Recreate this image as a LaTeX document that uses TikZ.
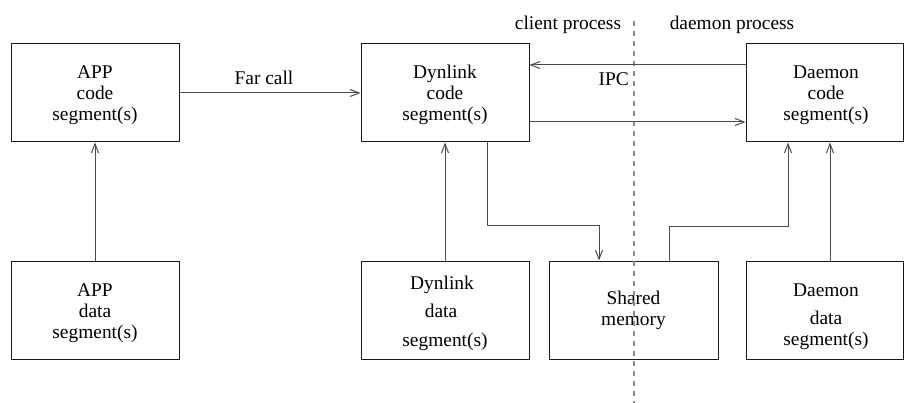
\documentclass[tikz,border=0pt]{standalone}
\usepackage{fontspec}
\setmainfont{Liberation Serif}
\usetikzlibrary{arrows.meta,calc}
\begin{document}
\begin{tikzpicture}[x=1pt,y=-1pt,
  box/.style={draw=black!90,line width=1pt,rectangle,minimum height=98pt,inner sep=0pt},
  wide/.style={minimum width=168pt},
  narrow/.style={minimum width=157pt},
  lbl/.style={inner sep=0pt,anchor=base,font=\fontsize{19.4}{21}\selectfont},
  conn/.style={draw=black!70,line width=1pt,-{Straight Barb[length=9pt,width=7pt,line width=1pt]}},
  divider/.style={draw=black!45,line width=1.2pt,dash pattern=on 5pt off 5pt}
]
\useasboundingbox (0,0) rectangle (904,403);

% upper row: code segments
\node[box,wide]   (appc) at (95,93)    {};
\node[box,wide]   (dync) at (445,93)   {};
\node[box,narrow] (daec) at (824.5,93) {};
% lower row: data segments and shared memory
\node[box,wide]   (appd) at (95,310)    {};
\node[box,wide]   (dynd) at (445,310)   {};
\node[box,minimum width=169pt] (shm) at (633.5,310) {};
\node[box,narrow] (daed) at (824.5,310) {};

% box texts
\node[lbl] (appc1) at (95,79)  {APP};
\node[lbl] (appc2) at (95,100) {code};
\node[lbl] (appc3) at (95,121) {segment(s)};
\node[lbl] (dync1) at (445,79)  {Dynlink};
\node[lbl] (dync2) at (445,100) {code};
\node[lbl] (dync3) at (445,121) {segment(s)};
\node[lbl] (daec1) at (826,79)  {Daemon};
\node[lbl] (daec2) at (826,100) {code};
\node[lbl] (daec3) at (826,121) {segment(s)};
\node[lbl] (appd1) at (95,296) {APP};
\node[lbl] (appd2) at (95,317) {data};
\node[lbl] (appd3) at (95,338) {segment(s)};
\node[lbl] (dynd1) at (442,289) {Dynlink};
\node[lbl] (dynd2) at (441,317) {data};
\node[lbl] (dynd3) at (445,346) {segment(s)};
\node[lbl] (shm1) at (633.5,304) {Shared};
\node[lbl] (shm2) at (633.5,325) {memory};
\node[lbl] (daed1) at (826,296) {Daemon};
\node[lbl] (daed2) at (826,324) {data};
\node[lbl] (daed3) at (826,345) {segment(s)};

% process boundary
\coordinate (divtop) at (634,21);
\coordinate (divbot) at (634,403);
\draw[divider] (divtop) -- (divbot);
\node[lbl] (client) at (568,30) {client process};
\node[lbl] (daemon) at (732,30) {daemon process};

% calls between segments
\draw[conn] (appc.east) -- (dync.west);
\node[lbl] (farcall) at (264,85) {Far call};
\draw[conn] ([yshift=28pt]daec.west) -- ([yshift=28pt]dync.east);
\node[lbl,anchor=base east] (ipc) at (629,86) {IPC};
\draw[conn] ([yshift=-29pt]dync.east) -- ([yshift=-29pt]daec.west);

% data segments feeding code segments
\draw[conn] (appd.north) -- (appc.south);
\draw[conn] (dynd.north) -- (dync.south);
\draw[conn] ([xshift=5.5pt]daed.north) -- ([xshift=5.5pt]daec.south);

% paths through shared memory
\draw[conn] ([xshift=42pt]dync.south) |- ([xshift=-34.5pt,yshift=35pt]shm.north) -- ([xshift=-34.5pt]shm.north);
\draw[conn] ([xshift=35.5pt]shm.north) |- ([xshift=-36.5pt,yshift=-84pt]daec.south) -- ([xshift=-36.5pt]daec.south);
\end{tikzpicture}
\end{document}
